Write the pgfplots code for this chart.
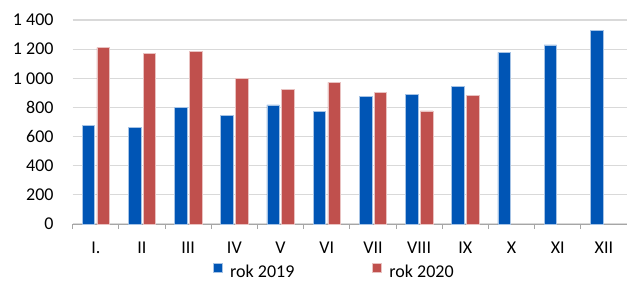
\documentclass[border=0pt]{standalone}
\usepackage{fontspec}
\setmainfont{Carlito}
\usepackage{pgfplots}
\pgfplotsset{compat=1.18}
\usetikzlibrary{calc}
\definecolor{cblue}{RGB}{0,85,181}
\definecolor{cred}{RGB}{192,80,77}
\definecolor{cgrid}{RGB}{217,217,217}
\definecolor{caxis}{RGB}{166,166,166}
\begin{document}
\begin{tikzpicture}
\begin{axis}[
  name=ax,
  scale only axis,
  width=554.3pt, height=204pt,
  xmin=-0.5, xmax=11.5,
  ymin=0, ymax=1400,
  ytick={0,200,...,1400},
  ymajorgrids,
  grid style={cgrid, line width=1.1pt},
  axis x line*=bottom,
  axis y line*=left,
  x axis line style={caxis, line width=0.9pt},
  y axis line style={draw=none},
  xtick={0,...,11},
  xticklabels={I.,II,III,IV,V,VI,VII,VIII,IX,X,XI,XII},
  minor xtick={-0.5,0.5,...,11.5},
  major tick length=0pt,
  minor tick length=5pt,
  tick align=outside,
  xtick pos=bottom,
  minor tick style={caxis, line width=0.9pt},
  xticklabel style={font=\fontsize{18}{20}\selectfont, anchor=center, inner sep=0pt, yshift=-23.5pt},
  yticklabel style={font=\fontsize{18}{20}\selectfont, anchor=east, inner sep=0pt, xshift=-19pt},
  /pgf/number format/assume math mode=true,
  /pgf/number format/1000 sep={\ },
  legend columns=2,
  legend style={at={(0.2531,-0.232)}, anchor=west, draw=none, inner sep=0pt,
    font=\fontsize{18}{20}\selectfont,
    nodes={inner sep=0pt},
    /tikz/every even column/.append style={column sep=78pt},
    /tikz/every odd column/.append style={column sep=7.5pt}},
  legend image code/.code={\fill[#1] (0pt,0pt) rectangle (9pt,9pt);},
]
\addplot[ybar, bar width=12.5pt, bar shift=-7.4pt, fill=cblue, draw=cblue!35!white, line width=0.5pt]
  coordinates {(0,675) (1,663) (2,801) (3,746) (4,817) (5,771) (6,874) (7,888) (8,943) (9,1178) (10,1230) (11,1329)};
\addlegendentry{rok 2019}
\addplot[ybar, bar width=12.5pt, bar shift=7.4pt, fill=cred, draw=cred!35!white, line width=0.5pt]
  coordinates {(0,1210) (1,1169) (2,1185) (3,997) (4,924) (5,972) (6,901) (7,776) (8,881)};
\addlegendentry{rok 2020}
\end{axis}
\pgfresetboundingbox
\path[use as bounding box] ($(ax.south west)+(-72.7pt,-58pt)$) rectangle ($(ax.north east)+(0pt,20pt)$);
\end{tikzpicture}
\end{document}
